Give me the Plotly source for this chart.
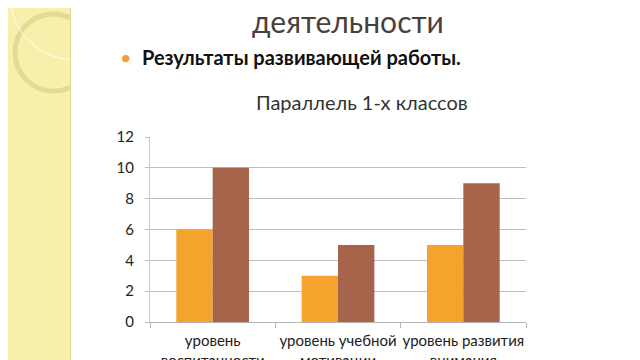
import plotly.graph_objects as go

categories = ["уровень<br>воспитанности", "уровень учебной<br>мотивации", "уровень развития<br>внимания"]
series_before = [6, 3, 5]
series_after = [10, 5, 9]
y_ticks = [0, 2, 4, 6, 8, 10, 12]

OFF = 8  # page body margin
W, H = 640, 360
L, R, T, B = 150 - OFF, 526 - OFF, 137 - OFF, 322 - OFF

def px(x):
    return (x - OFF - L) / (R - L)

def py(y):
    return (B - (y - OFF)) / (B - T)

fig = go.Figure()
fig.add_trace(go.Bar(x=categories, y=series_before, marker_color="#F4A42C", marker_line_width=0, name="до"))
fig.add_trace(go.Bar(x=categories, y=series_after, marker_color="#A6654A", marker_line_width=0, name="после"))

font = "Lato, 'Open Sans', sans-serif"

shapes = [
    dict(type="rect", xref="paper", yref="paper", x0=px(-10), x1=px(70), y0=py(-10), y1=py(H + 10),
         fillcolor="#F8EFAD", line_width=0, layer="below"),
    dict(type="circle", xref="paper", yref="paper", x0=px(15), x1=px(92), y0=py(14), y1=py(91),
         line=dict(color="rgba(225,215,150,0.9)", width=5), fillcolor="rgba(0,0,0,0)", layer="below"),
    dict(type="circle", xref="paper", yref="paper", x0=px(10), x1=px(140), y0=py(-70), y1=py(60),
         line=dict(color="rgba(255,255,240,0.9)", width=1), fillcolor="rgba(0,0,0,0)", layer="below"),
    dict(type="rect", xref="paper", yref="paper", x0=px(70), x1=px(W + 20), y0=py(-10), y1=py(H + 10),
         fillcolor="white", line_width=0, layer="below"),
    dict(type="line", xref="paper", yref="paper", x0=px(70.5), x1=px(70.5), y0=py(-10), y1=py(H + 10),
         line=dict(color="#E2D99A", width=1), layer="below"),
]

annotations = [
    dict(text="деятельности", x=px(348), y=py(21), xref="paper", yref="paper", showarrow=False,
         font=dict(family=font, size=30, color="#4A403B"), xanchor="center", yanchor="middle"),
    dict(text="•", x=px(126), y=py(57), xref="paper", yref="paper", showarrow=False,
         font=dict(family=font, size=20, color="#F0A040"), xanchor="center", yanchor="middle"),
    dict(text="<b>Результаты развивающей работы.</b>", x=px(140), y=py(57), xref="paper", yref="paper",
         showarrow=False, font=dict(family=font, size=20, color="#111111"), xanchor="left", yanchor="middle"),
    dict(text="Параллель 1-х классов", x=px(362), y=py(102), xref="paper", yref="paper", showarrow=False,
         font=dict(family=font, size=20, color="#333333"), xanchor="center", yanchor="middle"),
]

fig.update_layout(
    width=W, height=H,
    margin=dict(l=L, r=W - R, t=T, b=H - B, pad=0, autoexpand=False),
    paper_bgcolor="white", plot_bgcolor="rgba(0,0,0,0)",
    barmode="group", bargap=0.42, bargroupgap=0,
    showlegend=False,
    shapes=shapes, annotations=annotations,
    font=dict(family=font, size=15, color="#222222"),
)
fig.update_xaxes(
    automargin=False, tickangle=0,
    showgrid=False, showline=True, linecolor="#B5B5B5", linewidth=1,
    ticks="outside", tickson="boundaries", ticklen=5, tickcolor="#B5B5B5",
    ticklabelstandoff=5,
    tickfont=dict(family=font, size=15, color="#222222"),
)
fig.update_yaxes(
    automargin=False,
    range=[0, 12], tickvals=y_ticks, showgrid=True, gridcolor="#BDBDBD", gridwidth=1,
    showline=True, linecolor="#C8C8C8", linewidth=1, ticks="outside", ticklen=4, tickcolor="#BDBDBD",
    ticklabelstandoff=8,
    zeroline=False, tickfont=dict(family=font, size=15, color="#222222"),
)

fig.write_html("out.html")
